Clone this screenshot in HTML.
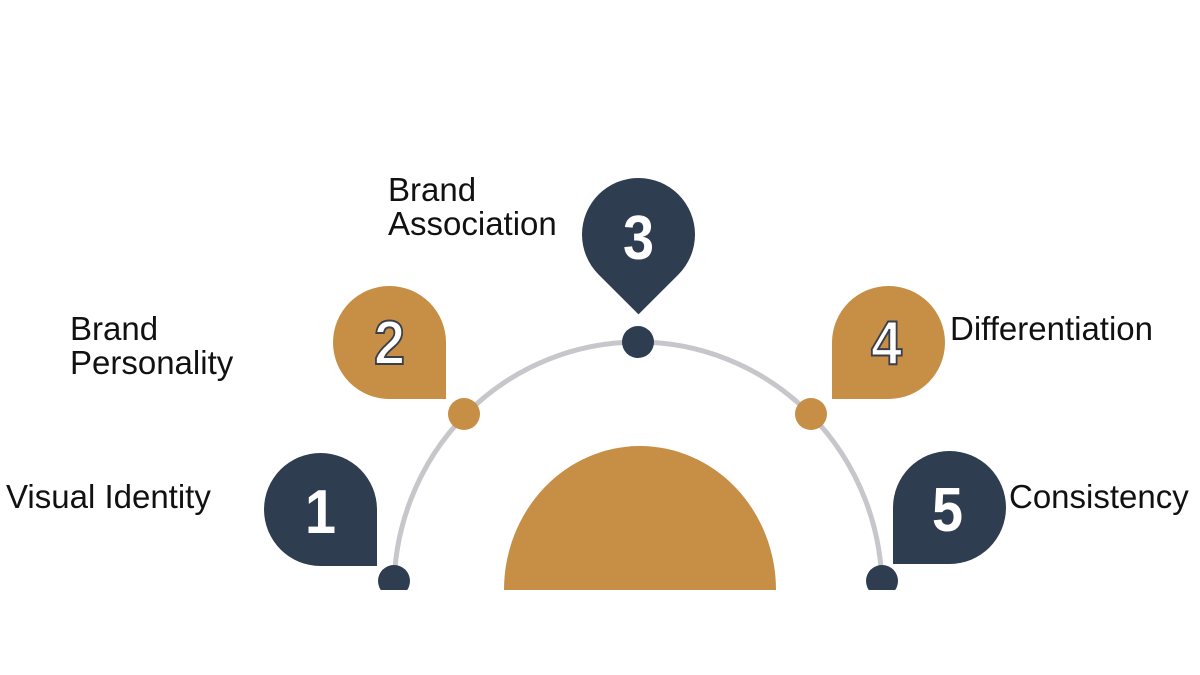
<!DOCTYPE html>
<html><head><meta charset="utf-8"><style>
body{margin:0;width:1200px;height:675px;background:#fff;overflow:hidden;font-family:"Liberation Sans",sans-serif;}
.wrap{position:absolute;left:0;top:0;width:1200px;height:590px;overflow:hidden;}
.m{position:absolute;width:113px;height:113px;border-radius:50%;}
.n{position:absolute;font:bold 62px "Liberation Sans",sans-serif;color:#fff;text-align:center;width:113px;line-height:113px;transform:scaleX(0.9);}
.o{-webkit-text-stroke:2px #3a3f4a;}
.lbl{position:absolute;font-size:33px;color:#111;line-height:34px;}
.dot{position:absolute;border-radius:50%;}
</style></head><body>
<div class="wrap">
<svg width="1200" height="590" style="position:absolute;left:0;top:0">
<path d="M394 590 A244 248 0 0 1 882 590" fill="none" stroke="#c7c7cb" stroke-width="5"/>
<path d="M504 590 A136 144 0 0 1 776 590 Z" fill="#c78e45"/>
</svg>
<div class="dot" style="left:378px;top:565px;width:32px;height:32px;background:#2f3d50"></div>
<div class="dot" style="left:448px;top:398px;width:32px;height:32px;background:#c78e45"></div>
<div class="dot" style="left:622px;top:326px;width:32px;height:32px;background:#2f3d50"></div>
<div class="dot" style="left:795px;top:398px;width:32px;height:32px;background:#c78e45"></div>
<div class="dot" style="left:866px;top:565px;width:32px;height:32px;background:#2f3d50"></div>

<div class="m" style="left:264px;top:453px;background:#2f3d50;border-bottom-right-radius:0"></div>
<div class="n" style="left:264px;top:456px">1</div>
<div class="m" style="left:333px;top:286px;background:#c78e45;border-bottom-right-radius:0"></div>
<div class="n o" style="left:333px;top:287px">2</div>
<div class="m" style="left:582px;top:178px;background:#2f3d50;border-bottom-right-radius:0;transform:rotate(45deg)"></div>
<div class="n" style="left:582px;top:182px">3</div>
<div class="m" style="left:832px;top:286px;background:#c78e45;border-bottom-left-radius:0"></div>
<div class="n o" style="left:830px;top:287px">4</div>
<div class="m" style="left:893px;top:451px;background:#2f3d50;border-bottom-left-radius:0"></div>
<div class="n" style="left:891px;top:454px">5</div>
</div>
<div class="lbl" style="left:6px;top:480px">Visual Identity</div>
<div class="lbl" style="left:70px;top:312px">Brand<br>Personality</div>
<div class="lbl" style="left:388px;top:173px">Brand<br>Association</div>
<div class="lbl" style="left:950px;top:312px">Differentiation</div>
<div class="lbl" style="left:1009px;top:480px">Consistency</div>
</body></html>
